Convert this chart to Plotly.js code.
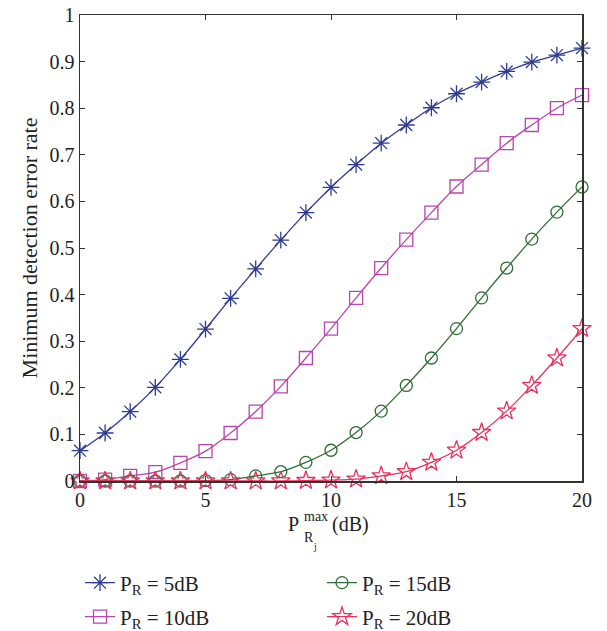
<!DOCTYPE html>
<html>
<head>
<meta charset="utf-8">
<script src="https://cdn.plot.ly/plotly-3.0.1.min.js"></script>
<style>html,body{margin:0;padding:0;background:#fff;}#chart{width:607px;height:631px;}</style>
</head>
<body>
<div id="chart"></div>
<script>
const xValues = [0,1,2,3,4,5,6,7,8,9,10,11,12,13,14,15,16,17,18,19,20];
const pr5  = [0.065,0.103,0.149,0.201,0.261,0.326,0.392,0.455,0.517,0.576,0.630,0.679,0.725,0.764,0.801,0.831,0.856,0.879,0.899,0.914,0.929];
const pr10 = [0.000,0.003,0.011,0.019,0.039,0.064,0.103,0.149,0.203,0.264,0.327,0.393,0.457,0.518,0.576,0.632,0.679,0.725,0.764,0.800,0.828];
const pr15 = [0.000,0.000,0.000,0.000,0.000,0.001,0.003,0.011,0.020,0.040,0.066,0.104,0.150,0.205,0.264,0.327,0.393,0.457,0.519,0.577,0.631];
const pr20 = [0.000,0.000,0.000,0.000,0.000,0.000,0.000,0.000,0.000,0.001,0.002,0.004,0.011,0.020,0.040,0.066,0.104,0.150,0.205,0.264,0.327];
const seriesNames = ['P<sub>R</sub> = 5dB','P<sub>R</sub> = 10dB','P<sub>R</sub> = 15dB','P<sub>R</sub> = 20dB'];
const yTicks = [0,0.1,0.2,0.3,0.4,0.5,0.6,0.7,0.8,0.9,1];
const xTicks = [0,5,10,15,20];

const FONT = '"Liberation Serif", "Times New Roman", serif';
const TXT = '#222';
function tr(y, name, color, symbol, size, legend) {
  return {
    x: xValues, y: y, name: name, type: 'scatter', mode: 'lines+markers',
    line: {color: color, width: 1.3, shape: 'spline'},
    marker: {symbol: symbol, size: size, color: color, line: {color: color, width: 1.3}},
    cliponaxis: false, legend: legend
  };
}
const data = [
  tr(pr5,  seriesNames[0], '#2f3c92', 'asterisk-open', 14, 'legend'),
  tr(pr10, seriesNames[1], '#b846ac', 'square-open', 13, 'legend2'),
  tr(pr15, seriesNames[2], '#2e6e34', 'circle-open', 12, 'legend3'),
  tr(pr20, seriesNames[3], '#e8315c', 'star-open', 14, 'legend4')
];
function px2x(px){ return (px-80)/502; }
function py2y(py){ return (481-py)/466; }
function leg(px, py){
  return {x: px2x(px), y: py2y(py), xanchor: 'left', yanchor: 'middle',
    font: {family: FONT, size: 21, color: TXT}, bgcolor: 'rgba(0,0,0,0)', itemwidth: 30};
}
function ann(text, px, py, s){
  return {text: text, xref: 'paper', yref: 'paper', x: px2x(px), y: py2y(py),
    xanchor: 'left', yanchor: 'middle', showarrow: false, font: {family: FONT, size: s, color: TXT}};
}
const layout = {
  width: 607, height: 631,
  margin: {l: 80, r: 25, t: 15, b: 150, autoexpand: false},
  paper_bgcolor: '#fff', plot_bgcolor: '#fff',
  font: {family: FONT, size: 20, color: TXT},
  showlegend: true,
  xaxis: {
    range: [0, 20], tickvals: xTicks, ticks: 'inside', ticklen: 5, tickcolor: '#333',
    showline: true, linecolor: '#333', linewidth: 1.5, mirror: 'allticks',
    showgrid: false, zeroline: false, tickfont: {family: FONT, size: 20, color: TXT}
  },
  yaxis: {
    range: [0, 1], tickvals: yTicks, ticks: 'inside', ticklen: 5, tickcolor: '#333',
    showline: true, linecolor: '#333', linewidth: 1.5, mirror: 'allticks',
    showgrid: false, zeroline: false, tickfont: {family: FONT, size: 20, color: TXT},
    title: {text: 'Minimum detection error rate', font: {family: FONT, size: 22, color: TXT}, standoff: 6}
  },
  legend: leg(80, 583),
  legend2: leg(80, 617),
  legend3: leg(322, 583),
  legend4: leg(322, 617),
  annotations: [
    ann('P', 286, 524, 20),
    ann('max', 302, 516, 14),
    ann('R', 302, 537, 14),
    ann('j', 311, 546, 10),
    ann('(dB)', 330, 524, 20)
  ]
};
Plotly.newPlot('chart', data, layout, {displayModeBar: false, staticPlot: true});
</script>
</body>
</html>
